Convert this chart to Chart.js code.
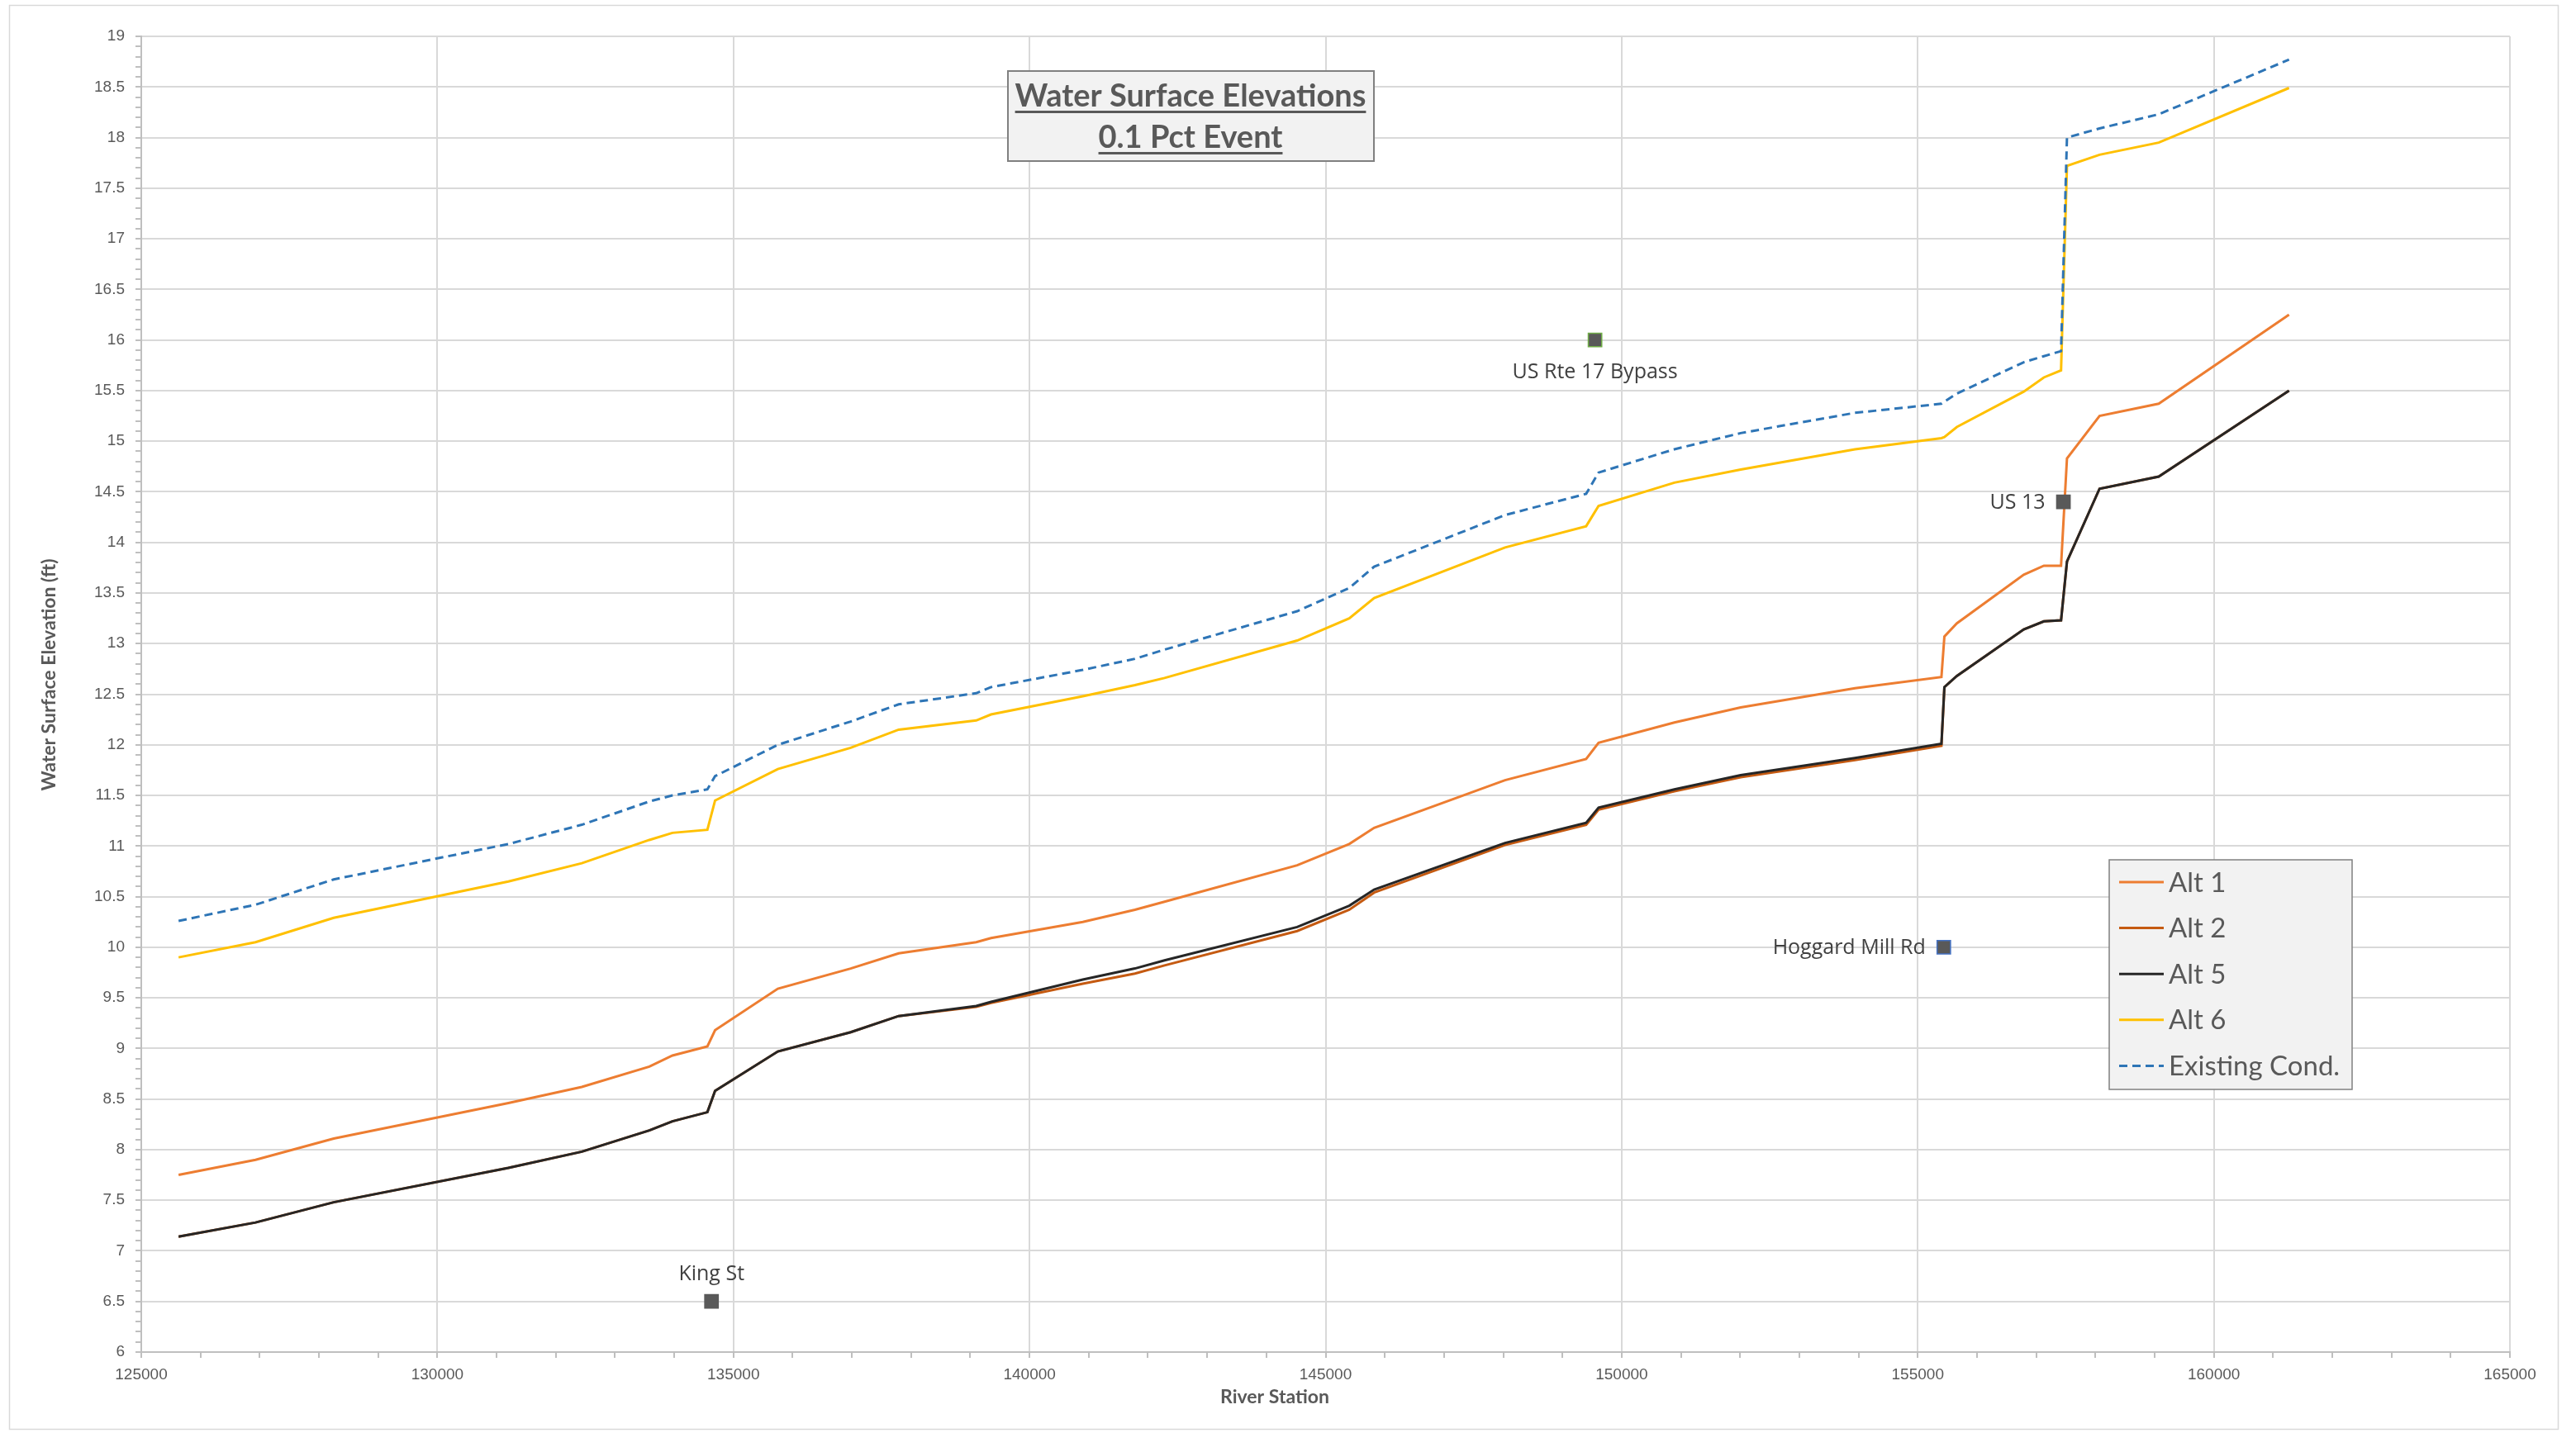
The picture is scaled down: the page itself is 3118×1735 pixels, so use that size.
<!DOCTYPE html>
<html>
<head>
<meta charset="utf-8">
<script src="https://cdn.jsdelivr.net/npm/chart.js@4.4.1/dist/chart.umd.min.js"></script>
<style>
  html, body { margin: 0; padding: 0; background: #fff; }
  #wrap { width: 3118px; height: 1735px; }
</style>
</head>
<body>
<div id="wrap"><canvas id="wseChart" width="3118" height="1735"></canvas></div>
<script>
// river stations shared by all profiles
const stations = [125630, 126930, 128250, 131200, 132440, 133580, 133970, 134560, 134690, 135750,
  136980, 137790, 139100, 139350, 140900, 141780, 142280, 144520, 145400, 145820,
  148030, 149400, 149610, 150890, 152010, 153940, 155400, 155450, 155660, 156790,
  157130, 157420, 157520, 158070, 159070, 161270];

// water surface elevations (ft)
const alt1 = [7.75, 7.90, 8.11, 8.46, 8.62, 8.82, 8.93, 9.02, 9.18, 9.59,
  9.79, 9.94, 10.05, 10.09, 10.25, 10.37, 10.45, 10.81, 11.02, 11.18,
  11.65, 11.86, 12.02, 12.22, 12.37, 12.56, 12.67, 13.07, 13.20, 13.68,
  13.77, 13.77, 14.83, 15.25, 15.37, 16.25];
const alt2 = [7.14, 7.28, 7.48, 7.82, 7.98, 8.19, 8.28, 8.37, 8.58, 8.97,
  9.16, 9.32, 9.41, 9.45, 9.64, 9.74, 9.82, 10.16, 10.37, 10.54,
  11.01, 11.21, 11.36, 11.54, 11.68, 11.85, 11.99, 12.57, 12.68, 13.14,
  13.22, 13.23, 13.81, 14.53, 14.65, 15.50];
const alt5 = [7.14, 7.28, 7.48, 7.82, 7.98, 8.19, 8.28, 8.37, 8.58, 8.97,
  9.16, 9.32, 9.42, 9.46, 9.68, 9.79, 9.87, 10.20, 10.41, 10.57,
  11.03, 11.23, 11.38, 11.56, 11.70, 11.87, 12.01, 12.57, 12.68, 13.14,
  13.22, 13.23, 13.81, 14.53, 14.65, 15.50];
const alt6 = [9.90, 10.05, 10.29, 10.65, 10.83, 11.06, 11.13, 11.16, 11.45, 11.76,
  11.97, 12.15, 12.24, 12.30, 12.48, 12.59, 12.66, 13.03, 13.25, 13.45,
  13.95, 14.16, 14.36, 14.59, 14.72, 14.92, 15.03, 15.04, 15.14, 15.49,
  15.63, 15.70, 17.72, 17.83, 17.95, 18.49];
const existing = [10.26, 10.42, 10.67, 11.02, 11.21, 11.44, 11.50, 11.56, 11.69, 12.00,
  12.23, 12.40, 12.51, 12.57, 12.74, 12.85, 12.94, 13.32, 13.55, 13.76,
  14.27, 14.48, 14.69, 14.92, 15.08, 15.28, 15.37, 15.39, 15.47, 15.78,
  15.84, 15.89, 18.00, 18.09, 18.23, 18.77];

// bridge / road crossings
const crossingNames = ['King St', 'US Rte 17 Bypass', 'US 13', 'Hoggard Mill Rd'];
const crossingStations = [134630, 149550, 157460, 155440];
const crossingElev = [6.5, 16, 14.4, 10];

// axes
const xMin = 125000, xMax = 165000, xMinor = 1000, xMajor = 5000;
const yMin = 6, yMax = 19, yMinor = 0.1, yMajor = 0.5;

const titleLines = ['Water Surface Elevations', '0.1 Pct Event'];
const xTitle = 'River Station';
const yTitle = 'Water Surface Elevation (ft)';

const toPoints = vals => stations.map((s, i) => ({ x: s, y: vals[i] }));
const isMajor = (v, step) => Math.abs(v / step - Math.round(v / step)) < 1e-6;

const textGray = '#595959';
const gridGray = '#d9d9d9';
const axisGray = '#bfbfbf';

// white background and outer frame
const framePlugin = {
  id: 'frame',
  beforeDraw(chart) {
    const ctx = chart.ctx;
    ctx.save();
    ctx.fillStyle = '#fff';
    ctx.fillRect(0, 0, chart.width, chart.height);
    ctx.strokeStyle = gridGray;
    ctx.lineWidth = 1.5;
    ctx.strokeRect(11.5, 6.5, 3085, 1724);
    ctx.restore();
  }
};

// labels next to the crossing markers
const crossingLabels = {
  id: 'crossingLabels',
  afterDatasetsDraw(chart) {
    const ctx = chart.ctx;
    const meta = chart.getDatasetMeta(5);
    const place = ['above', 'below', 'left', 'left'];
    ctx.save();
    ctx.font = '25px "Open Sans"';
    ctx.fillStyle = '#404040';
    meta.data.forEach((pt, i) => {
      const p = place[i];
      if (p === 'above') {
        ctx.textAlign = 'center'; ctx.textBaseline = 'alphabetic';
        ctx.fillText(crossingNames[i], pt.x, pt.y - 26);
      } else if (p === 'below') {
        ctx.textAlign = 'center'; ctx.textBaseline = 'alphabetic';
        ctx.fillText(crossingNames[i], pt.x, pt.y + 46);
      } else {
        ctx.textAlign = 'right'; ctx.textBaseline = 'middle';
        ctx.fillText(crossingNames[i], pt.x - 22, pt.y + 1);
      }
    });
    ctx.restore();
  }
};

// title box, legend box and axis titles
const overlayPlugin = {
  id: 'overlay',
  afterDraw(chart) {
    const ctx = chart.ctx;
    ctx.save();

    // title box
    ctx.fillStyle = '#f2f2f2';
    ctx.fillRect(1220, 86, 443, 109);
    ctx.strokeStyle = '#808080';
    ctx.lineWidth = 2;
    ctx.strokeRect(1220, 86, 443, 109);
    ctx.fillStyle = textGray;
    ctx.font = 'bold 38px Lato';
    ctx.textAlign = 'center';
    ctx.textBaseline = 'alphabetic';
    const baselines = [129, 179];
    titleLines.forEach((t, i) => {
      ctx.fillText(t, 1441, baselines[i]);
      const w = ctx.measureText(t).width;
      ctx.fillRect(1441 - w / 2, baselines[i] + 5, w, 3);
    });

    // legend
    const lx = 2553, ly = 1041, lw = 294, lh = 278;
    ctx.fillStyle = '#f2f2f2';
    ctx.fillRect(lx, ly, lw, lh);
    ctx.strokeStyle = '#808080';
    ctx.lineWidth = 1.5;
    ctx.strokeRect(lx, ly, lw, lh);
    ctx.font = '33px Lato';
    ctx.textAlign = 'left';
    ctx.textBaseline = 'middle';
    chart.data.datasets.slice(0, 5).forEach((ds, i) => {
      const y = ly + 27 + i * 55.6;
      ctx.strokeStyle = ds.borderColor;
      ctx.lineWidth = 3;
      ctx.setLineDash(ds.borderDash || []);
      ctx.beginPath();
      ctx.moveTo(lx + 12, y);
      ctx.lineTo(lx + 66, y);
      ctx.stroke();
      ctx.setLineDash([]);
      ctx.fillStyle = textGray;
      ctx.fillText(ds.label, lx + 72, y + 1);
    });

    // axis titles
    ctx.fillStyle = textGray;
    ctx.font = 'bold 23px Lato';
    ctx.textAlign = 'center';
    ctx.textBaseline = 'middle';
    ctx.fillText(xTitle, 1543, 1692);
    ctx.translate(60, 817);
    ctx.rotate(-Math.PI / 2);
    ctx.fillText(yTitle, 0, 0);
    ctx.restore();
  }
};

const lineDefaults = { pointRadius: 0, borderWidth: 3, fill: false, tension: 0 };

new Chart(document.getElementById('wseChart'), {
  type: 'line',
  data: {
    datasets: [
      { ...lineDefaults, label: 'Alt 1', data: toPoints(alt1), borderColor: '#ed7d31', order: 4 },
      { ...lineDefaults, label: 'Alt 2', data: toPoints(alt2), borderColor: '#c55a11', order: 3 },
      { ...lineDefaults, label: 'Alt 5', data: toPoints(alt5), borderColor: '#262626', order: 2 },
      { ...lineDefaults, label: 'Alt 6', data: toPoints(alt6), borderColor: '#ffc000', order: 1 },
      { ...lineDefaults, label: 'Existing Cond.', data: toPoints(existing), borderColor: '#2e75b6',
        borderDash: [10, 6], order: 0 },
      {
        type: 'scatter',
        label: 'Crossings',
        data: crossingStations.map((s, i) => ({ x: s, y: crossingElev[i] })),
        pointStyle: 'rect',
        pointRadius: 11.5,
        backgroundColor: '#595959',
        borderColor: ['#595959', '#70ad47', '#595959', '#4472c4'],
        borderWidth: 1.5,
        showLine: false,
        order: -1
      }
    ]
  },
  options: {
    responsive: false,
    animation: false,
    devicePixelRatio: 1,
    layout: { padding: { top: 44, right: 80, bottom: 0, left: 0 } },
    plugins: {
      legend: { display: false },
      title: { display: false },
      tooltip: { enabled: false }
    },
    scales: {
      x: {
        type: 'linear',
        min: xMin,
        max: xMax,
        afterFit: s => { s.height = 98; },
        border: { color: axisGray, width: 2 },
        grid: {
          color: c => isMajor(c.tick.value, xMajor) ? gridGray : 'rgba(0,0,0,0)',
          lineWidth: 2,
          tickColor: axisGray,
          tickLength: 7
        },
        ticks: {
          stepSize: xMinor,
          maxTicksLimit: 1000,
          autoSkip: false,
          maxRotation: 0,
          padding: 9,
          color: textGray,
          font: { family: 'Liberation Sans', size: 19 },
          callback: v => isMajor(v, xMajor) ? String(v) : ''
        }
      },
      y: {
        type: 'linear',
        min: yMin,
        max: yMax,
        afterFit: s => { s.width = 171; },
        border: { color: axisGray, width: 2 },
        grid: {
          color: c => isMajor(c.tick.value, yMajor) ? gridGray : 'rgba(0,0,0,0)',
          lineWidth: 2,
          tickColor: axisGray,
          tickLength: 7
        },
        ticks: {
          stepSize: yMinor,
          maxTicksLimit: 1000,
          autoSkip: false,
          padding: 13,
          color: textGray,
          font: { family: 'Liberation Sans', size: 19 },
          callback: v => isMajor(v, yMajor) ? String(Math.round(v * 2) / 2) : ''
        }
      }
    }
  },
  plugins: [framePlugin, crossingLabels, overlayPlugin]
});
</script>
</body>
</html>
